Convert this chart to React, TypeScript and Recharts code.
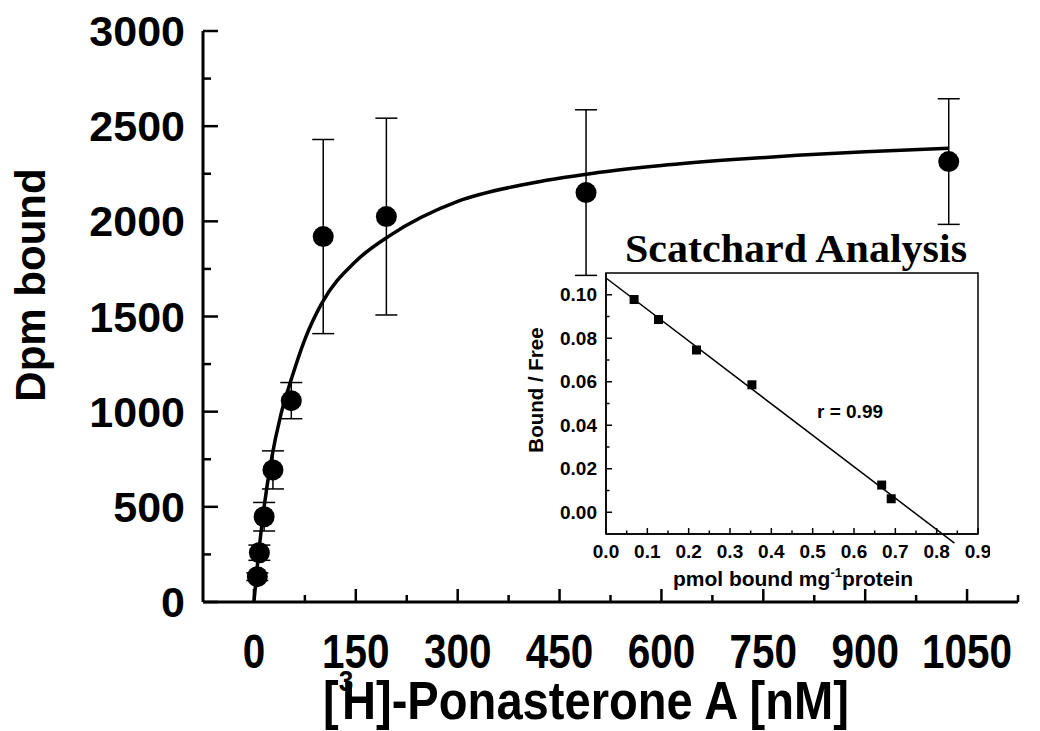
import {
  ComposedChart, Line, Scatter, XAxis, YAxis, ErrorBar, ReferenceLine, ReferenceArea,
} from 'recharts'

// saturation binding: [3H]-ponasterone A (nM) vs dpm bound, mean ± error
const doseNM = [5, 8, 15, 28, 55, 102, 195, 489, 1023]
const dpmBound = [133, 259, 448, 694, 1058, 1920, 2025, 2151, 2314]
const dpmErr = [20, 40, 75, 100, 95, 510, 517, 435, 330]

// fitted curve
const fitNM = [0, 5, 10, 15, 25, 40, 55, 75, 100, 150, 200, 300, 400, 500, 600, 700, 800, 900, 1023]
const fitDpm = [0, 190, 355, 500, 735, 990, 1170, 1380, 1570, 1790, 1925, 2105, 2195, 2253, 2293, 2323, 2347, 2366, 2384]

// inset: Scatchard plot
const scatBound = [0.068, 0.127, 0.219, 0.353, 0.667, 0.69]
const scatRatio = [0.0978, 0.0886, 0.0746, 0.0586, 0.0125, 0.0062]
const scatLineX = [0, 0.843]
const scatLineY = [0.1077, -0.0142]

// ticks
const mainXTicks = [0, 75, 150, 225, 300, 375, 450, 525, 600, 675, 750, 825, 900, 975, 1050, 1125]
const mainXLabels = [0, 150, 300, 450, 600, 750, 900, 1050]
const mainYTicks = [0, 250, 500, 750, 1000, 1250, 1500, 1750, 2000, 2250, 2500, 2750, 3000]
const mainYLabels = [0, 500, 1000, 1500, 2000, 2500, 3000]
const insetXTicks = [0, 0.05, 0.1, 0.15, 0.2, 0.25, 0.3, 0.35, 0.4, 0.45, 0.5, 0.55, 0.6, 0.65, 0.7, 0.75, 0.8, 0.85, 0.9]
const insetXLabels = [0, 0.1, 0.2, 0.3, 0.4, 0.5, 0.6, 0.7, 0.8, 0.9]
const insetYTicks = [0, 0.01, 0.02, 0.03, 0.04, 0.05, 0.06, 0.07, 0.08, 0.09, 0.1]
const insetYLabels = [0, 0.02, 0.04, 0.06, 0.08, 0.1]

const bindRows = doseNM.map((x, i) => ({ x, y: dpmBound[i], err: dpmErr[i] }))
const fitRows = fitNM.map((x, i) => ({ x, y: fitDpm[i] }))
const scatRows = scatBound.map((x, i) => ({ x, y: scatRatio[i] }))

const SANS = "'Liberation Sans', Arial, sans-serif"
const SERIF = "'Liberation Serif', 'Times New Roman', serif"

const has = (list: number[], v: number) => list.some((l) => Math.abs(l - v) < 1e-9)

// x labels in the original are a condensed face; squeeze regular bold to match
function MainXTick({ x, y, payload }: any) {
  const v = payload.value
  const major = v % 150 === 0
  const s = String(v)
  return (
    <g>
      <line x1={x} x2={x} y1={y} y2={y - (major ? 13 : 7)} stroke="#000" strokeWidth={2.5} />
      {has(mainXLabels, v) && (
        <text
          x={x} y={y + 66} textAnchor="middle" fontFamily={SANS} fontWeight="bold" fontSize={48}
          textLength={s.length * 22.5} lengthAdjust="spacingAndGlyphs"
        >
          {s}
        </text>
      )}
    </g>
  )
}

function MainYTick({ x, y, payload }: any) {
  const v = payload.value
  const major = has(mainYLabels, v)
  return (
    <g>
      <line x1={x} x2={x + (major ? 15 : 8)} y1={y} y2={y} stroke="#000" strokeWidth={2.5} />
      {major && (
        <text x={x - 18} y={y + 15} textAnchor="end" fontFamily={SANS} fontWeight="bold" fontSize={43}>
          {v}
        </text>
      )}
    </g>
  )
}

function InsetXTick({ x, y, payload }: any) {
  const v = payload.value
  const major = has(insetXLabels, v)
  return (
    <g>
      <line x1={x} x2={x} y1={y} y2={y - (major ? 6 : 3.5)} stroke="#000" strokeWidth={1.5} />
      {major && (
        <text x={x} y={y + 24} textAnchor="middle" fontFamily={SANS} fontWeight="bold" fontSize={19}>
          {v.toFixed(1)}
        </text>
      )}
    </g>
  )
}

function InsetYTick({ x, y, payload }: any) {
  const v = payload.value
  const major = has(insetYLabels, v)
  return (
    <g>
      <line x1={x} x2={x + (major ? 6 : 3.5)} y1={y} y2={y} stroke="#000" strokeWidth={1.5} />
      {major && (
        <text x={x - 9} y={y + 6.5} textAnchor="end" fontFamily={SANS} fontWeight="bold" fontSize={19}>
          {v.toFixed(2)}
        </text>
      )}
    </g>
  )
}

const dot = (p: any) => <circle cx={p.cx} cy={p.cy} r={10.5} fill="#000" />
const square = (p: any) => <rect x={p.cx - 4.5} y={p.cy - 4.5} width={9} height={9} fill="#000" />

export default function App() {
  return (
    <div style={{ position: 'absolute', left: 0, top: 0, width: 1040, height: 731, background: '#fff' }}>
      <ComposedChart width={1040} height={731} margin={{ top: 31, right: 22, bottom: 0, left: 0 }}>
        <XAxis
          dataKey="x" type="number" domain={[-75, 1125]} ticks={mainXTicks} interval={0}
          tickSize={0} tickMargin={0} height={129} tick={(p: any) => <MainXTick {...p} />}
          axisLine={{ stroke: '#000', strokeWidth: 3 }} allowDataOverflow
        />
        <YAxis
          type="number" domain={[0, 3000]} ticks={mainYTicks} interval={0}
          tickSize={0} tickMargin={0} width={203} tick={(p: any) => <MainYTick {...p} />}
          axisLine={{ stroke: '#000', strokeWidth: 3 }} allowDataOverflow
        />
        <Line data={fitRows} dataKey="y" type="monotone" stroke="#000" strokeWidth={3.5} dot={false} isAnimationActive={false} />
        <Scatter data={bindRows} dataKey="y" shape={dot} isAnimationActive={false}>
          <ErrorBar dataKey="err" direction="y" width={11} stroke="#000" strokeWidth={1.5} />
        </Scatter>
        <text transform="translate(45,285) rotate(-90)" textAnchor="middle" fontFamily={SANS} fontWeight="bold" fontSize={42}>
          Dpm bound
        </text>
        <text transform="translate(586,719) scale(0.873,1)" textAnchor="middle" fontFamily={SANS} fontWeight="bold" fontSize={54}>
          [<tspan fontSize={30} dy={-28}>3</tspan><tspan dx={-13} dy={28}>H]-Ponasterone A [nM]</tspan>
        </text>
      </ComposedChart>

      <div style={{ position: 'absolute', left: 520, top: 225 }}>
        <ComposedChart width={470} height={370} margin={{ top: 48, right: 12, bottom: 0, left: 0 }}>
          <XAxis
            dataKey="x" type="number" domain={[0, 0.9]} ticks={insetXTicks} interval={0}
            tickSize={0} tickMargin={0} height={61} tick={(p: any) => <InsetXTick {...p} />}
            axisLine={{ stroke: '#000', strokeWidth: 1.5 }} allowDataOverflow
          />
          <YAxis
            type="number" domain={[-0.01, 0.11]} ticks={insetYTicks} interval={0}
            tickSize={0} tickMargin={0} width={86} tick={(p: any) => <InsetYTick {...p} />}
            axisLine={{ stroke: '#000', strokeWidth: 1.5 }} allowDataOverflow
          />
          <ReferenceArea x1={0} x2={0.9} y1={-0.01} y2={0.11} fill="none" stroke="#000" strokeWidth={1.5} fillOpacity={0} />
          <ReferenceLine
            segment={[{ x: scatLineX[0], y: scatLineY[0] }, { x: scatLineX[1], y: scatLineY[1] }]}
            stroke="#000" strokeWidth={1.5} ifOverflow="visible"
          />
          <Scatter data={scatRows} dataKey="y" shape={square} isAnimationActive={false} />
          <text
            x={276} y={37} textAnchor="middle" fontFamily={SERIF} fontWeight="bold" fontSize={39}
            textLength={342} lengthAdjust="spacingAndGlyphs"
          >
            Scatchard Analysis
          </text>
          <text transform="translate(23,165) rotate(-90)" textAnchor="middle" fontFamily={SANS} fontWeight="bold" fontSize={20.5}>
            Bound / Free
          </text>
          <text x={273} y={361} textAnchor="middle" fontFamily={SANS} fontWeight="bold" fontSize={21}>
            pmol bound mg<tspan fontSize={13} dy={-9}>-1</tspan><tspan dy={9}>protein</tspan>
          </text>
          <text x={330} y={193} textAnchor="middle" fontFamily={SANS} fontWeight="bold" fontSize={19}>
            r = 0.99
          </text>
        </ComposedChart>
      </div>
    </div>
  )
}
